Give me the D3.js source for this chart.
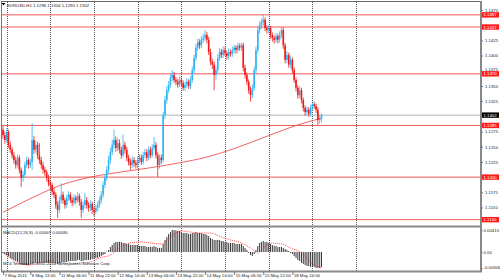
<!DOCTYPE html>
<html lang="en">
<head>
<meta charset="UTF-8">
<title>EURUSD,H1</title>
<script src="https://d3js.org/d3.v7.min.js"></script>
<style>
    body { margin: 0; background: #fff; }
    svg { display: block; }
    text { font-family: "Liberation Sans", Arial, sans-serif; font-size: 4.3px; fill: #222; }
    .axis path, .axis line { stroke: #777; }
</style>
</head>
<body>
<script>
// hourly candles, 7 May 2015 -> 18 May 2015
var opens = [1.1278,1.1269,1.1261,1.1274,1.1253,1.1245,1.1236,1.1228,1.1220,1.1232,
    1.1212,1.1199,1.1204,1.1220,1.1228,1.1220,1.1225,1.1261,1.1245,1.1253,
    1.1236,1.1228,1.1220,1.1212,1.1208,1.1199,1.1190,1.1187,1.1176,1.1171,
    1.1154,1.1146,1.1162,1.1171,1.1162,1.1154,1.1166,1.1171,1.1162,1.1158,
    1.1166,1.1162,1.1169,1.1159,1.1146,1.1154,1.1162,1.1154,1.1149,1.1156,
    1.1146,1.1143,1.1149,1.1154,1.1162,1.1171,1.1187,1.1199,1.1212,1.1228,
    1.1241,1.1253,1.1261,1.1248,1.1256,1.1245,1.1236,1.1253,1.1245,1.1232,
    1.1225,1.1220,1.1228,1.1223,1.1220,1.1228,1.1232,1.1225,1.1236,1.1241,
    1.1232,1.1245,1.1236,1.1248,1.1253,1.1236,1.1220,1.1232,1.1228,1.1302,
    1.1327,1.1343,1.1352,1.1363,1.1368,1.1360,1.1357,1.1352,1.1360,1.1355,
    1.1347,1.1352,1.1357,1.1350,1.1360,1.1376,1.1396,1.1413,1.1422,1.1417,
    1.1426,1.1429,1.1434,1.1426,1.1406,1.1390,1.1385,1.1368,1.1376,1.1396,
    1.1406,1.1401,1.1409,1.1404,1.1399,1.1406,1.1403,1.1409,1.1413,1.1409,
    1.1416,1.1413,1.1417,1.1380,1.1368,1.1357,1.1343,1.1335,1.1347,1.1376,
    1.1409,1.1442,1.1450,1.1455,1.1459,1.1445,1.1442,1.1445,1.1434,1.1429,
    1.1426,1.1432,1.1426,1.1434,1.1442,1.1417,1.1393,1.1401,1.1385,1.1393,
    1.1376,1.1360,1.1347,1.1335,1.1343,1.1327,1.1314,1.1307,1.1311,1.1304,
    1.1314,1.1320,1.1317,1.1311,1.1294,1.1296];
var highs = [1.1284,1.1275,1.1280,1.1278,1.1258,1.1249,1.1241,1.1233,1.1237,1.1236,
    1.1216,1.1210,1.1225,1.1234,1.1232,1.1230,1.1289,1.1268,1.1260,1.1258,
    1.1256,1.1233,1.1225,1.1217,1.1212,1.1204,1.1195,1.1191,1.1182,1.1175,
    1.1160,1.1168,1.1190,1.1176,1.1166,1.1171,1.1177,1.1175,1.1167,1.1172,
    1.1170,1.1175,1.1173,1.1164,1.1160,1.1174,1.1167,1.1159,1.1162,1.1160,
    1.1151,1.1155,1.1160,1.1168,1.1177,1.1193,1.1205,1.1218,1.1235,1.1248,
    1.1262,1.1278,1.1267,1.1264,1.1262,1.1250,1.1270,1.1258,1.1250,1.1237,
    1.1230,1.1234,1.1233,1.1228,1.1234,1.1238,1.1237,1.1242,1.1247,1.1246,
    1.1251,1.1250,1.1254,1.1266,1.1258,1.1241,1.1238,1.1237,1.1307,1.1334,
    1.1350,1.1358,1.1370,1.1376,1.1373,1.1365,1.1362,1.1366,1.1364,1.1359,
    1.1357,1.1363,1.1361,1.1366,1.1382,1.1402,1.1419,1.1428,1.1427,1.1432,
    1.1436,1.1442,1.1439,1.1431,1.1411,1.1395,1.1390,1.1382,1.1402,1.1412,
    1.1411,1.1415,1.1414,1.1408,1.1412,1.1410,1.1415,1.1418,1.1417,1.1421,
    1.1420,1.1421,1.1421,1.1385,1.1372,1.1361,1.1349,1.1353,1.1382,1.1415,
    1.1448,1.1457,1.1461,1.1467,1.1463,1.1450,1.1450,1.1449,1.1438,1.1433,
    1.1437,1.1436,1.1440,1.1447,1.1446,1.1421,1.1407,1.1405,1.1399,1.1397,
    1.1380,1.1364,1.1351,1.1349,1.1347,1.1331,1.1318,1.1316,1.1315,1.1319,
    1.1325,1.1324,1.1321,1.1315,1.1302,1.1304];
var lows = [1.1263,1.1255,1.1257,1.1248,1.1240,1.1231,1.1222,1.1214,1.1216,1.1206,
    1.1184,1.1193,1.1200,1.1215,1.1214,1.1215,1.1212,1.1238,1.1240,1.1230,
    1.1222,1.1214,1.1206,1.1202,1.1193,1.1185,1.1180,1.1170,1.1165,1.1148,
    1.1133,1.1141,1.1157,1.1156,1.1148,1.1150,1.1161,1.1157,1.1152,1.1153,
    1.1156,1.1158,1.1153,1.1133,1.1141,1.1149,1.1148,1.1143,1.1144,1.1140,
    1.1136,1.1139,1.1144,1.1150,1.1157,1.1166,1.1182,1.1194,1.1207,1.1222,
    1.1236,1.1247,1.1242,1.1243,1.1239,1.1230,1.1232,1.1239,1.1226,1.1219,
    1.1212,1.1215,1.1217,1.1214,1.1215,1.1223,1.1220,1.1221,1.1231,1.1226,
    1.1228,1.1231,1.1232,1.1244,1.1231,1.1200,1.1214,1.1222,1.1224,1.1296,
    1.1321,1.1338,1.1347,1.1358,1.1355,1.1351,1.1347,1.1348,1.1350,1.1342,
    1.1342,1.1347,1.1345,1.1345,1.1355,1.1371,1.1391,1.1408,1.1411,1.1412,
    1.1421,1.1424,1.1420,1.1401,1.1384,1.1378,1.1343,1.1360,1.1371,1.1391,
    1.1396,1.1396,1.1399,1.1393,1.1394,1.1398,1.1398,1.1404,1.1403,1.1404,
    1.1408,1.1408,1.1374,1.1362,1.1351,1.1337,1.1324,1.1330,1.1342,1.1371,
    1.1404,1.1436,1.1444,1.1449,1.1440,1.1436,1.1437,1.1428,1.1423,1.1420,
    1.1421,1.1420,1.1421,1.1429,1.1411,1.1387,1.1388,1.1380,1.1380,1.1370,
    1.1355,1.1341,1.1329,1.1330,1.1321,1.1308,1.1301,1.1302,1.1299,1.1300,
    1.1310,1.1312,1.1305,1.1286,1.1288,1.1290];
var closes = [1.1269,1.1261,1.1274,1.1253,1.1245,1.1236,1.1228,1.1220,1.1232,1.1212,
    1.1199,1.1204,1.1220,1.1228,1.1220,1.1225,1.1261,1.1245,1.1253,1.1236,
    1.1228,1.1220,1.1212,1.1208,1.1199,1.1190,1.1187,1.1176,1.1171,1.1154,
    1.1146,1.1162,1.1171,1.1162,1.1154,1.1166,1.1171,1.1162,1.1158,1.1166,
    1.1162,1.1169,1.1159,1.1146,1.1154,1.1162,1.1154,1.1149,1.1156,1.1146,
    1.1143,1.1149,1.1154,1.1162,1.1171,1.1187,1.1199,1.1212,1.1228,1.1241,
    1.1253,1.1261,1.1248,1.1256,1.1245,1.1236,1.1253,1.1245,1.1232,1.1225,
    1.1220,1.1228,1.1223,1.1220,1.1228,1.1232,1.1225,1.1236,1.1241,1.1232,
    1.1245,1.1236,1.1248,1.1253,1.1236,1.1220,1.1232,1.1228,1.1302,1.1327,
    1.1343,1.1352,1.1363,1.1368,1.1360,1.1357,1.1352,1.1360,1.1355,1.1347,
    1.1352,1.1357,1.1350,1.1360,1.1376,1.1396,1.1413,1.1422,1.1417,1.1426,
    1.1429,1.1434,1.1426,1.1406,1.1390,1.1385,1.1368,1.1376,1.1396,1.1406,
    1.1401,1.1409,1.1404,1.1399,1.1406,1.1403,1.1409,1.1413,1.1409,1.1416,
    1.1413,1.1417,1.1380,1.1368,1.1357,1.1343,1.1335,1.1347,1.1376,1.1409,
    1.1442,1.1450,1.1455,1.1459,1.1445,1.1442,1.1445,1.1434,1.1429,1.1426,
    1.1432,1.1426,1.1434,1.1442,1.1417,1.1393,1.1401,1.1385,1.1393,1.1376,
    1.1360,1.1347,1.1335,1.1343,1.1327,1.1314,1.1307,1.1311,1.1304,1.1314,
    1.1320,1.1317,1.1311,1.1294,1.1296,1.1302];

// moving average, read at a few bars
var maIdx = [0,16,32,48,64,80,96,112,128,144,160,175];
var maVal = [1.1142,1.1166,1.1187,1.1200,1.1208,1.1215,1.1223,1.1233,1.1248,1.1266,1.1284,1.1297];

// MACD(12,26,9) histogram, one value per bar
var macdHist = [-0.00019,-0.00038,-0.00057,-0.00075,-0.00113,-0.00132,-0.00151,-0.00170,-0.00189,-0.00207,
    -0.00226,-0.00245,-0.00245,-0.00247,-0.00245,-0.00240,-0.00226,-0.00215,-0.00207,-0.00210,
    -0.00207,-0.00205,-0.00207,-0.00210,-0.00207,-0.00205,-0.00207,-0.00210,-0.00212,-0.00215,
    -0.00226,-0.00207,-0.00189,-0.00189,-0.00192,-0.00189,-0.00170,-0.00172,-0.00170,-0.00168,
    -0.00170,-0.00151,-0.00151,-0.00170,-0.00168,-0.00151,-0.00153,-0.00151,-0.00150,-0.00132,
    -0.00132,-0.00113,-0.00113,-0.00094,-0.00075,-0.00057,-0.00038,0.00005,0.00038,0.00094,
    0.00132,0.00170,0.00189,0.00189,0.00191,0.00189,0.00170,0.00170,0.00151,0.00151,
    0.00132,0.00132,0.00134,0.00132,0.00130,0.00113,0.00113,0.00115,0.00113,0.00094,
    0.00094,0.00096,0.00094,0.00113,0.00094,0.00075,0.00075,0.00077,0.00151,0.00226,
    0.00283,0.00340,0.00377,0.00415,0.00413,0.00410,0.00396,0.00396,0.00377,0.00358,
    0.00360,0.00358,0.00340,0.00340,0.00358,0.00358,0.00377,0.00358,0.00360,0.00358,
    0.00340,0.00340,0.00321,0.00302,0.00264,0.00245,0.00226,0.00226,0.00228,0.00226,
    0.00207,0.00207,0.00189,0.00189,0.00170,0.00170,0.00172,0.00170,0.00151,0.00151,
    0.00153,0.00151,0.00113,0.00075,0.00038,-0.00019,-0.00057,-0.00075,-0.00038,0.00038,
    0.00113,0.00170,0.00189,0.00207,0.00189,0.00189,0.00170,0.00151,0.00132,0.00113,
    0.00113,0.00094,0.00094,0.00094,0.00075,0.00057,0.00038,0.00019,-0.00019,-0.00038,
    -0.00075,-0.00113,-0.00151,-0.00170,-0.00207,-0.00226,-0.00245,-0.00264,-0.00264,-0.00283,
    -0.00283,-0.00283,-0.00302,-0.00302,-0.00302,-0.00283];

// MACD signal line, read at a few bars
var sigIdx = [0,4,9,15,20,26,31,37,42,48,53,59,64,70,76,81,87,92,98,103,
    109,114,120,125,131,136,140,143,147,153,158,164,169,175];
var sigVal = [-0.00019,-0.00113,-0.00226,-0.00245,-0.00207,-0.00170,-0.00189,-0.00226,-0.00207,-0.00189,
    -0.00113,-0.00057,0.00075,0.00170,0.00189,0.00170,0.00151,0.00283,0.00396,0.00377,
    0.00358,0.00358,0.00283,0.00226,0.00170,0.00075,-0.00019,0.00075,0.00170,0.00151,
    0.00075,-0.00019,-0.00189,-0.00302];

// horizontal levels and last price
var levels = [1.1467, 1.1447, 1.1370, 1.1285, 1.1200, 1.1130];
var lastPrice = 1.1302;

// axis labels (the ones hidden under the price tags are left out)
var priceTicks = [1.1475,1.1425,1.1400,1.1375,1.1350,1.1325,1.1275,1.1250,1.1225,1.1175,1.1150];
var macdTicks = [0.00415, 0, -0.00306];
var macdTickLabels = ["0.00415", "0.00", "-0.00306"];
var timeIdx = [0,15,31,47,63,79,95,111,127,143,159];
var timeLabels = ["7 May 2015","8 May 13:00","11 May 06:00","11 May 22:00","12 May 14:00","13 May 06:00",
    "13 May 22:00","14 May 14:00","15 May 06:00","15 May 22:00","18 May 14:00"];
var gridIdx = [2,26,50,74,98,122,146,170,194];

var width = 500, height = 280,
    axisX = 481;

var x = d3.scaleLinear().domain([0, 175]).range([3, 321.5]);
var y = d3.scaleLinear().domain([1.1150, 1.1475]).range([207.5, 10]);
var ym = d3.scaleLinear().domain([-0.00306, 0.00415]).range([268.2, 230]);

var svg = d3.select("body").append("svg")
    .attr("width", width)
    .attr("height", height);

svg.append("rect").attr("width", width).attr("height", height).attr("fill", "#fff");

// vertical dotted grid
svg.selectAll("line.grid")
    .data(gridIdx)
    .enter().append("line")
    .attr("class", "grid")
    .attr("x1", function (d) { return Math.round(x(d)) + 0.5; })
    .attr("x2", function (d) { return Math.round(x(d)) + 0.5; })
    .attr("y1", 2)
    .attr("y2", 271)
    .attr("stroke", "#555")
    .attr("stroke-dasharray", "1,1");

// levels
svg.selectAll("line.level")
    .data(levels)
    .enter().append("line")
    .attr("class", "level")
    .attr("x1", 2).attr("x2", axisX)
    .attr("y1", function (d) { return y(d); })
    .attr("y2", function (d) { return y(d); })
    .attr("stroke", "#f25a5a")
    .attr("stroke-width", 1);

svg.append("line")
    .attr("x1", 2).attr("x2", axisX)
    .attr("y1", y(lastPrice)).attr("y2", y(lastPrice))
    .attr("stroke", "#aab4bc")
    .attr("stroke-width", 1);

// moving average
var maLine = d3.line()
    .x(function (d, i) { return x(maIdx[i]); })
    .y(function (d) { return y(d); })
    .curve(d3.curveMonotoneX);

svg.append("path")
    .datum(maVal)
    .attr("d", maLine)
    .attr("fill", "none")
    .attr("stroke", "#ee3b3b")
    .attr("stroke-width", 0.8);

// candles
var upColor = "#2db4f5", downColor = "#f21818";
var candles = svg.append("g").selectAll("g")
    .data(closes)
    .enter().append("g");

candles.append("line")
    .attr("x1", function (d, i) { return x(i); })
    .attr("x2", function (d, i) { return x(i); })
    .attr("y1", function (d, i) { return y(highs[i]); })
    .attr("y2", function (d, i) { return y(lows[i]); })
    .attr("stroke", function (d, i) { return d >= opens[i] ? upColor : downColor; })
    .attr("stroke-width", 0.8);

candles.append("rect")
    .attr("x", function (d, i) { return x(i) - 0.8; })
    .attr("width", 1.6)
    .attr("y", function (d, i) { return y(Math.max(d, opens[i])); })
    .attr("height", function (d, i) { return Math.max(0.8, Math.abs(y(d) - y(opens[i]))); })
    .attr("fill", function (d, i) { return d >= opens[i] ? upColor : downColor; });

// MACD histogram
svg.append("g").selectAll("rect")
    .data(macdHist)
    .enter().append("rect")
    .attr("x", function (d, i) { return x(i) - 0.5; })
    .attr("width", 1)
    .attr("y", function (d) { return Math.min(ym(d), ym(0)); })
    .attr("height", function (d) { return Math.abs(ym(d) - ym(0)); })
    .attr("fill", "#3a3a3a");

var sigLine = d3.line()
    .x(function (d, i) { return x(sigIdx[i]); })
    .y(function (d) { return ym(d); })
    .curve(d3.curveMonotoneX);

svg.append("path")
    .datum(sigVal)
    .attr("d", sigLine)
    .attr("fill", "none")
    .attr("stroke", "#ff1e1e")
    .attr("stroke-width", 0.8)
    .attr("stroke-dasharray", "1,1");

// frame
svg.append("line").attr("x1", 1).attr("x2", axisX).attr("y1", 1.5).attr("y2", 1.5)
    .attr("stroke", "#666").attr("stroke-width", 1);
svg.append("line").attr("x1", 1.5).attr("x2", 1.5).attr("y1", 1).attr("y2", 271)
    .attr("stroke", "#777").attr("stroke-width", 1);
svg.append("line").attr("x1", 1).attr("x2", axisX + 1).attr("y1", 226.5).attr("y2", 226.5)
    .attr("stroke", "#888").attr("stroke-width", 2);
svg.append("line").attr("x1", 1).attr("x2", axisX + 1).attr("y1", 271.5).attr("y2", 271.5)
    .attr("stroke", "#888").attr("stroke-width", 2);
svg.append("line").attr("x1", axisX).attr("x2", axisX).attr("y1", 1).attr("y2", 272)
    .attr("stroke", "#888").attr("stroke-width", 2);

// right axes
var yAxis = d3.axisRight(y)
    .tickValues(priceTicks)
    .tickFormat(d3.format(".4f"))
    .tickSize(2).tickSizeOuter(0).tickPadding(2);

svg.append("g")
    .attr("class", "axis")
    .attr("transform", "translate(" + axisX + ",0)")
    .call(yAxis)
    .call(function (g) { g.select(".domain").remove(); })
    .selectAll("text")
    .attr("dy", function (d) { return d === 1.1375 ? "0.05em" : "0.32em"; });

var mAxis = d3.axisRight(ym)
    .tickValues(macdTicks)
    .tickFormat(function (d, i) { return macdTickLabels[i]; })
    .tickSize(1.5).tickSizeOuter(0).tickPadding(1);

svg.append("g")
    .attr("class", "axis")
    .attr("transform", "translate(" + axisX + ",0)")
    .call(mAxis)
    .call(function (g) { g.select(".domain").remove(); })
    .selectAll("text")
    .attr("dy", function (d, i) { return i === 2 ? "0.1em" : "0.32em"; });

// time axis
var xAxis = d3.axisBottom(x)
    .tickValues(timeIdx)
    .tickFormat(function (d, i) { return timeLabels[i]; })
    .tickSize(3).tickSizeOuter(0);

svg.append("g")
    .attr("class", "axis")
    .attr("transform", "translate(0,272)")
    .call(xAxis)
    .call(function (g) { g.select(".domain").remove(); })
    .selectAll("text")
    .attr("text-anchor", "start")
    .attr("x", 1)
    .attr("y", 2)
    .attr("dy", "0.71em");

// price tags
function tag(value, fill) {
    svg.append("rect")
        .attr("x", axisX + 1).attr("y", y(value) - 2.7)
        .attr("width", 17).attr("height", 5.4)
        .attr("fill", fill);
    svg.append("text")
        .attr("x", axisX + 2.5).attr("y", y(value))
        .attr("dy", "0.35em")
        .style("fill", "#fff")
        .text(d3.format(".4f")(value));
}
levels.forEach(function (d) { tag(d, "#ff1a1a"); });
tag(lastPrice, "#000");

// header texts
svg.append("path")
    .attr("d", "M1.5,3 L5.5,3 L3.5,5.5 Z")
    .attr("fill", "#000");
svg.append("text").attr("x", 7).attr("y", 6.5)
    .text("EURUSD,H1  1.1296 1.1304 1.1290 1.1302");
svg.append("text").attr("x", 3).attr("y", 234)
    .text("MACD(12,26,9) -0.00067 0.00080");
svg.append("text").attr("x", 3).attr("y", 265)
    .text("MT4 Terminal, \u00a9 2001-2014 MetaQuotes Software Corp.");
</script>
</body>
</html>
